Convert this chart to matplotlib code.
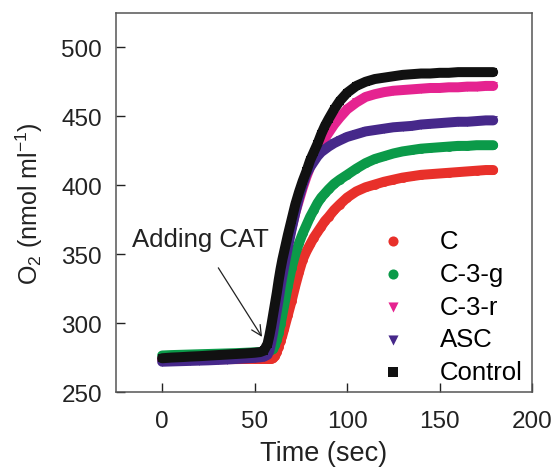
import matplotlib
matplotlib.use("Agg")
import matplotlib.pyplot as plt

plt.rcParams["font.family"] = ["Liberation Sans", "DejaVu Sans"]
plt.rcParams["mathtext.default"] = "regular"

# --- Время (сек), общее для всех кривых ---
t = [0, 5, 10, 15, 20, 25, 30, 35, 40, 45, 50, 53, 55, 57, 58, 59, 60, 61, 62, 63,
     64, 65, 66, 68, 70, 72, 74, 76, 78, 80, 82, 84, 86, 88, 90, 93, 96, 100,
     105, 110, 115, 120, 125, 130, 135, 140, 145, 150, 155, 160, 165, 170, 175, 179]

# --- O2 (nmol/ml) ---
o2_c = [273.5, 273.6, 273.6, 273.7, 273.7, 273.8, 273.8, 273.9, 273.9, 274, 274, 274, 274, 274,
        274, 274, 274.5, 276, 279, 283, 287, 291, 296, 306, 316, 327, 337, 346, 352, 357,
        362, 366, 370, 374, 377, 382, 386, 391, 395.5, 398.5, 400.5, 402.5, 404, 405.5,
        406.5, 407.5, 408, 408.5, 409, 409.5, 410, 410.5, 411, 411]
o2_c3g = [276.5, 276.8, 277, 277.2, 277.4, 277.6, 277.8, 278, 278.2, 278.5, 278.8, 279, 279.2, 279.5,
          280, 280.5, 281, 284, 288, 293, 299, 306, 313, 327, 340, 350, 358, 365, 371, 377,
          382, 387, 391, 394, 397, 401, 404, 407.5, 412, 416, 419, 421, 423, 424.5,
          425.5, 426.5, 427, 427.5, 428, 428.5, 428.5, 429, 429, 429]
o2_c3r = [274, 274.3, 274.6, 275, 275.3, 275.6, 276, 276.3, 276.6, 277, 277.4, 277.8, 278, 280,
          284, 290, 297, 305, 313, 321, 329, 337, 344, 357, 369, 380, 389, 398, 406, 413,
          419, 424, 429, 434, 438, 444, 449, 455, 460, 464, 466, 467.5, 468.5, 469,
          469.5, 470, 470.5, 470.5, 471, 471, 471.5, 471.5, 472, 472]
o2_asc = [272, 272.2, 272.4, 272.6, 272.8, 273, 273.3, 273.6, 274, 274.4, 274.8, 275.2, 275.6, 277,
          280, 286, 293, 301, 309, 317, 326, 334, 341, 355, 368, 380, 391, 400, 408, 413,
          417, 421, 424, 426, 428, 430.5, 432.5, 435, 437, 439, 440, 441, 442, 442.5,
          443, 444, 444.5, 445, 445.5, 446, 446, 446.5, 447, 447]
o2_ctrl = [274.5, 275, 275.3, 275.7, 276, 276.4, 276.8, 277.2, 277.6, 278, 278.5, 279, 280, 285,
           291, 298, 306, 314, 322, 331, 339, 346, 352, 364, 375, 386, 395, 403, 410, 418,
           424, 430, 437, 443, 448, 455, 461, 467, 472, 475, 477, 478, 479, 480,
           480.5, 481, 481, 481.5, 481.5, 482, 482, 482, 482, 482]

series = [
    ("C", o2_c, "#e8302a", "o"),
    ("C-3-g", o2_c3g, "#0b9a49", "o"),
    ("C-3-r", o2_c3r, "#e52390", "v"),
    ("ASC", o2_asc, "#46288a", "v"),
    ("Control", o2_ctrl, "#111111", "s"),
]

fig = plt.figure(figsize=(5.6, 4.77), dpi=100)
ax = fig.add_axes([0.207, 0.176, 0.743, 0.795])

for name, y, col, m in series:
    # толстая линия даёт сплошную "полосу" из точек, как на оригинале
    ax.plot(t, y, color=col, lw=7.2, solid_capstyle="round", zorder=2)
    ax.scatter(t, y, color=col, marker=m, s=40, lw=0, label=name, zorder=2)

ax.set_xlim(-25, 200)
ax.set_ylim(250, 525)
ax.set_xticks([0, 50, 100, 150, 200])
ax.set_yticks([250, 300, 350, 400, 450, 500])
ax.tick_params(direction="in", length=6.5, width=1, labelsize=17.5, pad=10, colors="#222222")
ax.tick_params(axis="x", pad=13)
for sp in ax.spines.values():
    sp.set_color("#555555")
    sp.set_linewidth(1.1)

ax.set_xlabel("Time (sec)", fontsize=19.5, labelpad=6, color="#222222")
ax.set_ylabel("O$_2$ (nmol ml$^{-1}$)", fontsize=18, labelpad=12, color="#222222")

ax.annotate("Adding CAT", xy=(54, 290), xytext=(20.5, 361), fontsize=18.5,
            ha="center", va="center", color="#222222",
            arrowprops=dict(arrowstyle="->", color="#222222", lw=0.9,
                            shrinkA=12, shrinkB=0, mutation_scale=18))

ax.legend(loc="lower left", bbox_to_anchor=(0.58, -0.04), frameon=False,
          fontsize=18.5, handlelength=1.0, handletextpad=1.3, labelspacing=0.34,
          scatterpoints=1, markerscale=1.15)

fig.savefig("out.png", dpi=100)
